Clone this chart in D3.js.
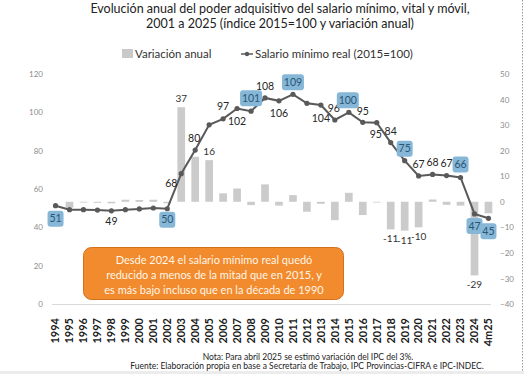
<!DOCTYPE html>
<html>
<head>
<meta charset="utf-8">
<script src="https://cdn.jsdelivr.net/npm/d3@7"></script>
<style>
  body { margin: 0; background: #fff; }
  svg { font-family: Lato, "Open Sans", sans-serif; }
</style>
</head>
<body>
<div id="chart"></div>
<script>
// categorias y series
const years = ["1994","1995","1996","1997","1998","1999","2000","2001","2002","2003","2004",
  "2005","2006","2007","2008","2009","2010","2011","2012","2013","2014","2015","2016","2017",
  "2018","2019","2020","2021","2022","2023","2024","4m25"]

const salarioReal = [51.3, 49.2, 49.2, 49.0, 48.6, 49.2, 49.6, 50.1, 49.7, 68.0, 80.3,
  93.5, 96.6, 102.0, 100.6, 107.5, 106.0, 109.4, 104.7, 103.8, 96.0, 100.0, 94.8, 94.6,
  84.2, 74.8, 66.8, 67.6, 67.0, 66.0, 47.0, 44.7]

const variacion = [0, -2.3, -0.3, -0.4, -0.6, 0.8, 0.7, 0.8, -0.6, 37.0, 17.6,
  16.3, 3.3, 5.2, -1.3, 6.8, -1.5, 2.6, -3.9, -0.8, -7.2, 3.5, -5.2, -0.3,
  -10.8, -11.3, -10.0, 0.9, -1.2, -1.5, -28.8, -4.5]

const leftTicks = [0, 20, 40, 60, 80, 100, 120]
const rightTicks = [-40, -30, -20, -10, 0, 10, 20, 30, 40, 50]

// que etiquetas se muestran y donde
const lineLabelPos = {
  "1994": [0, 13, true], "1998": [0, 11, false], "2002": [0, 11, true],
  "2003": [-10, 10, false], "2004": [-1, -12, false], "2006": [0, -12, false],
  "2007": [0, 13, false], "2008": [0, -13, true], "2009": [0, -12, false],
  "2010": [0, 13, false], "2011": [0, -12, true], "2013": [0, 13, false],
  "2014": [-1, -12, false], "2015": [-1, -12, true], "2016": [0, -11, false],
  "2017": [-1, 12, false], "2018": [0, -11, false], "2019": [0, -12, true],
  "2020": [0, -12, false], "2021": [0, -12, false], "2022": [0, -12, false],
  "2023": [0, -13, true], "2024": [0, 12, true], "4m25": [0, 13, true]
}
const barLabelYears = ["2003", "2005", "2018", "2019", "2020", "2024"]

const width = 524, height = 374

const svg = d3.select("#chart").append("svg")
  .attr("width", width)
  .attr("height", height)

const x = d3.scaleBand().domain(years).range([51, 493]).paddingInner(0.45).paddingOuter(0.05)
const yL = d3.scaleLinear().domain([0, 120]).range([304, 74])
const yR = d3.scaleLinear().domain([-40, 50]).range([304, 74])
const cx = d => x(d) + x.bandwidth() / 2

// titulo
svg.append("text").attr("x", 280).attr("y", 13).attr("text-anchor", "middle")
  .attr("font-size", 12.5).attr("fill", "#222")
  .text("Evolución anual del poder adquisitivo del salario mínimo, vital y móvil,")
svg.append("text").attr("x", 280).attr("y", 28).attr("text-anchor", "middle")
  .attr("font-size", 12.5).attr("fill", "#222")
  .text("2001 a 2025 (índice 2015=100 y variación anual)")

// leyenda
svg.append("rect").attr("x", 122).attr("y", 49).attr("width", 11).attr("height", 9).attr("fill", "#c9c9c9")
svg.append("text").attr("x", 135).attr("y", 58).attr("font-size", 11.5).attr("fill", "#333").text("Variación anual")
svg.append("line").attr("x1", 241).attr("x2", 253).attr("y1", 54).attr("y2", 54)
  .attr("stroke", "#595959").attr("stroke-width", 1.5)
svg.append("circle").attr("cx", 247).attr("cy", 54).attr("r", 2.2).attr("fill", "#595959")
svg.append("text").attr("x", 255).attr("y", 58).attr("font-size", 11.5).attr("fill", "#333").text("Salario mínimo real (2015=100)")

// linea base
svg.append("line").attr("x1", 52).attr("x2", 491).attr("y1", 304.5).attr("y2", 304.5)
  .attr("stroke", "#d9d9d9")

// ejes
const axL = svg.append("g").attr("transform", "translate(46,0)")
  .call(d3.axisLeft(yL).tickValues(leftTicks).tickSize(0))
const axR = svg.append("g").attr("transform", "translate(497,0)")
  .call(d3.axisRight(yR).tickValues(rightTicks).tickSize(0))
axL.select(".domain").remove()
axR.select(".domain").remove()
svg.selectAll(".tick text").attr("font-family", "Lato, sans-serif").attr("font-size", 8).attr("fill", "#8c8c8c")

const axX = svg.append("g").attr("transform", "translate(0,316)")
  .call(d3.axisBottom(x).tickSize(0))
axX.select(".domain").remove()
axX.selectAll("text")
  .attr("font-family", "Lato, sans-serif").attr("font-size", 11).attr("font-weight", "bold")
  .attr("fill", "#1a1a1a")
  .attr("transform", "rotate(-90)")
  .attr("text-anchor", "end")
  .attr("x", -2).attr("y", 0).attr("dy", "0.35em")

// barras
const data = years.map((y, i) => ({ year: y, idx: salarioReal[i], v: variacion[i] }))
svg.append("g").selectAll("rect").data(data).join("rect")
  .attr("x", d => x(d.year))
  .attr("width", x.bandwidth())
  .attr("y", d => yR(Math.max(0, d.v)))
  .attr("height", d => Math.abs(yR(d.v) - yR(0)))
  .attr("fill", "#cbcbcb")

svg.append("g").selectAll("text").data(data.filter(d => barLabelYears.includes(d.year))).join("text")
  .attr("x", d => cx(d.year))
  .attr("y", d => d.v > 0 ? yR(d.v) - 5 : yR(d.v) + 13)
  .attr("text-anchor", "middle").attr("font-size", 10).attr("fill", "#333")
  .text(d => Math.round(d.v))

// linea del indice
svg.append("path").datum(data)
  .attr("fill", "none").attr("stroke", "#595959").attr("stroke-width", 2)
  .attr("d", d3.line().x(d => cx(d.year)).y(d => yL(d.idx)))
svg.append("g").selectAll("circle").data(data).join("circle")
  .attr("cx", d => cx(d.year)).attr("cy", d => yL(d.idx)).attr("r", 2.6).attr("fill", "#595959")

// etiquetas del indice
const lbl = svg.append("g")
data.filter(d => lineLabelPos[d.year]).forEach(d => {
  const [dx, dy, boxed] = lineLabelPos[d.year]
  const px = cx(d.year) + dx, py = yL(d.idx) + dy
  const t = String(Math.round(d.idx))
  if (boxed) {
    const w = t.length > 2 ? 22 : 16
    lbl.append("rect").attr("x", px - w / 2).attr("y", py - 8).attr("width", w).attr("height", 16)
      .attr("rx", 3).attr("fill", "#86b7d7")
    lbl.append("text").attr("x", px).attr("y", py + 3.6).attr("text-anchor", "middle")
      .attr("font-size", 10.5).attr("fill", "#2b5574").text(t)
  } else {
    lbl.append("text").attr("x", px).attr("y", py + 3.6).attr("text-anchor", "middle")
      .attr("font-size", 10.5).attr("fill", "#262626").text(t)
  }
})

// recuadro de comentario
svg.append("rect").attr("x", 83.5).attr("y", 247.5).attr("width", 260).attr("height", 52)
  .attr("rx", 8).attr("fill", "#f28a2e").attr("stroke", "#d2701c").attr("stroke-width", 1)
const note = ["Desde 2024 el salario mínimo real quedó",
  "reducido a menos de la mitad que en 2015, y",
  "es más bajo incluso que en la década de 1990"]
note.forEach((s, i) => {
  svg.append("text").attr("x", 214).attr("y", 264 + i * 15).attr("text-anchor", "middle")
    .attr("font-size", 11).attr("fill", "#fff6e6").text(s)
})

// notas al pie
svg.append("text").attr("x", 308).attr("y", 360).attr("text-anchor", "middle")
  .attr("font-size", 8.5).attr("fill", "#222")
  .text("Nota: Para abril 2025 se estimó variación del IPC del 3%.")
svg.append("text").attr("x", 307).attr("y", 369).attr("text-anchor", "middle")
  .attr("font-size", 8.5).attr("fill", "#222")
  .text("Fuente: Elaboración propia en base a Secretaría de Trabajo, IPC Provincias-CIFRA e IPC-INDEC.")

// borde punteado derecho y franja inferior
svg.append("line").attr("x1", 522.5).attr("x2", 522.5).attr("y1", 0).attr("y2", 371)
  .attr("stroke", "#999").attr("stroke-dasharray", "1.5,1.5")
svg.append("rect").attr("x", 0).attr("y", 371).attr("width", width).attr("height", 3).attr("fill", "#ececec")
</script>
</body>
</html>
